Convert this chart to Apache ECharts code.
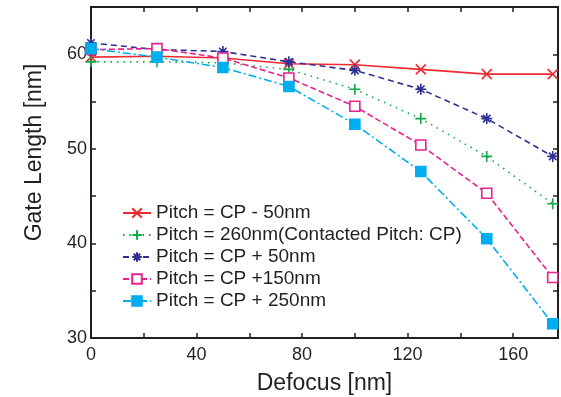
<!DOCTYPE html>
<html><head><meta charset="utf-8">
<script src="https://cdn.jsdelivr.net/npm/echarts@6/dist/echarts.min.js"></script>
<style>html,body{margin:0;padding:0;background:#fff}#c{width:561px;height:397px}</style>
</head><body><div id="c"></div>
<script>
const defocus = [0, 25, 50, 75, 100, 125, 150, 175];
const seriesNames = ['Pitch = CP - 50nm', 'Pitch = 260nm(Contacted Pitch: CP)', 'Pitch = CP + 50nm', 'Pitch = CP +150nm', 'Pitch = CP + 250nm'];
const cpMinus50 = [59.7, 59.8, 59.6, 59.0, 58.9, 58.4, 57.9, 57.9];
const cp260 = [59.2, 59.2, 59.1, 58.4, 56.3, 53.2, 49.2, 44.2];
const cpPlus50 = [61.2, 60.5, 60.3, 59.2, 58.3, 56.3, 53.2, 49.2];
const cpPlus150 = [60.5, 60.6, 59.6, 57.5, 54.5, 50.4, 45.3, 36.4];
const cpPlus250 = [60.6, 59.7, 58.6, 56.6, 52.6, 47.6, 40.5, 31.5];

const font = '"Liberation Sans", Arial, sans-serif';
const pair = arr => defocus.map((x, i) => [x, arr[i]]);
const X = 'path://M0,0L10,10M10,0L0,10';
const PLUS = 'path://M5,0L5,10M0,5L10,5';
const AST = 'path://M5,0L5,10M0,5L10,5M1.6,1.6L8.4,8.4M8.4,1.6L1.6,8.4';

const cfg = [
  {data: cpMinus50, color: '#ee2b33', symbol: X, fill: 'none', type: 'solid', size: 10},
  {data: cp260, color: '#13a84a', symbol: PLUS, fill: 'none', type: [1.5, 5], size: 11},
  {data: cpPlus50, color: '#2e3192', symbol: AST, fill: 'none', type: [6, 4], size: 11},
  {data: cpPlus150, color: '#e8238f', symbol: 'rect', fill: '#ffffff', type: [6, 3], size: 10},
  {data: cpPlus250, color: '#00aeef', symbol: 'rect', fill: '#00aeef', type: [8, 3, 2, 3], size: 10}
];

const chart = echarts.init(document.getElementById('c'), null, {renderer: 'canvas'});
const axisLine = () => ({show: true, onZero: false, lineStyle: {color: '#231f20', width: 2}});
const tick = () => ({show: true, inside: true, length: 5, lineStyle: {color: '#231f20', width: 1.5}});
chart.setOption({
  animation: false,
  backgroundColor: '#fff',
  grid: {left: 91, right: 3, top: 7, bottom: 59, containLabel: false, outerBoundsMode: 'none',
    show: true, borderColor: '#231f20', borderWidth: 2},
  legend: {
    left: 117, top: 198, orient: 'vertical', itemGap: 2, itemWidth: 28, itemHeight: 12,
    textStyle: {fontFamily: font, fontSize: 19, color: '#231f20', lineHeight: 20, padding: [0, 0, 0, 0]},
    data: seriesNames
  },
  xAxis: [{
    type: 'value', min: 0, max: 177, interval: 20,
    name: 'Defocus [nm]', nameLocation: 'middle', nameGap: 34,
    nameTextStyle: {fontFamily: font, fontSize: 23, color: '#231f20'},
    axisLine: axisLine(), axisTick: tick(), splitLine: {show: false},
    axisLabel: {fontFamily: font, fontSize: 18, color: '#231f20', margin: 8,
      formatter: v => (v % 40 === 0 ? String(v) : '')}
  }, {
    type: 'value', min: 0, max: 177, interval: 20, position: 'top',
    axisLine: axisLine(), axisTick: tick(), axisLabel: {show: false}, splitLine: {show: false}
  }],
  yAxis: [{
    type: 'value', min: 30, max: 65, interval: 5, position: 'left',
    name: 'Gate Length [nm]', nameLocation: 'middle', nameGap: 45,
    nameTextStyle: {fontFamily: font, fontSize: 23, color: '#231f20', padding: [0, 0, 0, 40]},
    axisLine: axisLine(), axisTick: tick(), splitLine: {show: false},
    axisLabel: {fontFamily: font, fontSize: 18, color: '#231f20', margin: 4,
      formatter: v => (v % 10 === 0 ? String(v) : '')}
  }, {
    type: 'value', min: 30, max: 65, interval: 5, position: 'right',
    axisLine: axisLine(), axisTick: tick(), axisLabel: {show: false}, splitLine: {show: false}
  }],
  series: cfg.map((c, i) => ({
    name: seriesNames[i], type: 'line', data: pair(c.data),
    symbol: c.symbol, symbolSize: c.size, showSymbol: true,
    lineStyle: {color: c.color, width: 1.6, type: c.type},
    itemStyle: {color: c.fill, borderColor: c.color, borderWidth: 1.6},
    z: 2 + i
  }))
});
</script></body></html>
